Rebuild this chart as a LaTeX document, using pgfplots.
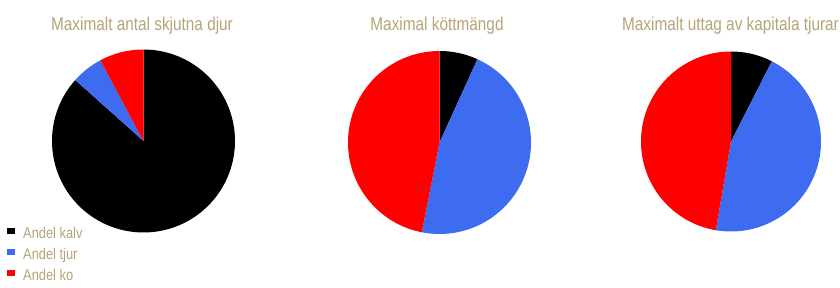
\documentclass[border=0pt]{standalone}
\usepackage{pgfplots}
\pgfplotsset{compat=1.18}
\usepackage{fontspec}
\setmainfont{Liberation Sans}[FakeStretch=0.83]
\definecolor{titlec}{RGB}{183,163,120}
\definecolor{pblue}{RGB}{61,108,240}
\definecolor{pred}{RGB}{255,0,0}
% one wedge: colour, centre x, centre y, radius, from angle, to angle (degrees clockwise from 12 o'clock)
\newcommand\slice[6]{%
  \addplot[fill=#1, draw=none, domain=#5:#6, samples=120, forget plot]
    ({#2+#4*sin(x)},{#3+#4*cos(x)}) -- (axis cs:#2,#3) -- cycle;}
% one pie: centre x, centre y, radius, share kalv, share tjur, share ko (percent)
\newcommand\pie[6]{%
  \slice{black}{#1}{#2}{#3}{0}{3.6*#4}%
  \slice{pblue}{#1}{#2}{#3}{3.6*#4}{3.6*(#4+#5)}%
  \slice{pred}{#1}{#2}{#3}{3.6*(#4+#5)}{360}}
\begin{document}
\begin{tikzpicture}
\begin{axis}[scale only axis, width=840pt, height=287pt,
  xmin=0, xmax=840, ymin=0, ymax=287, hide axis, clip=false,
  legend image code/.code={\fill[#1, draw=none] (0pt,1.5pt) rectangle (8pt,7.5pt);},
  legend style={at={(axis cs:7,59)}, anchor=north west, draw=none, fill=none,
    inner sep=0pt, row sep=7.5pt, font=\fontsize{15.5}{15.5}\selectfont, text=titlec,
    nodes={inner sep=0pt, text height=9pt, text depth=3pt},
    /tikz/every odd column/.append style={column sep=8pt}},
  legend cell align=left]
  % Andel kalv / tjur / ko
  \pie{143.5}{146}{91.5}{86.6}{5.6}{7.8}
  \pie{439.5}{144.5}{91.5}{6.8}{46.3}{46.9}
  \pie{731}{145.5}{90}{7.5}{45.2}{47.3}
  \addlegendimage{fill=black}
  \addlegendentry{Andel kalv}
  \addlegendimage{fill=pblue}
  \addlegendentry{Andel tjur}
  \addlegendimage{fill=pred}
  \addlegendentry{Andel ko}
  \node[anchor=base, font=\fontsize{18.5}{18.5}\selectfont, text=titlec] at (axis cs:142,256) {Maximalt antal skjutna djur};
  \node[anchor=base, font=\fontsize{18.5}{18.5}\selectfont, text=titlec] at (axis cs:437,256) {Maximal köttmängd};
  \node[anchor=base, font=\fontsize{18.5}{18.5}\selectfont, text=titlec] at (axis cs:730.5,256) {Maximalt uttag av kapitala tjurar};
\end{axis}
\pgfresetboundingbox
\path (0,0) rectangle (840pt,287pt);
\end{tikzpicture}
\end{document}
